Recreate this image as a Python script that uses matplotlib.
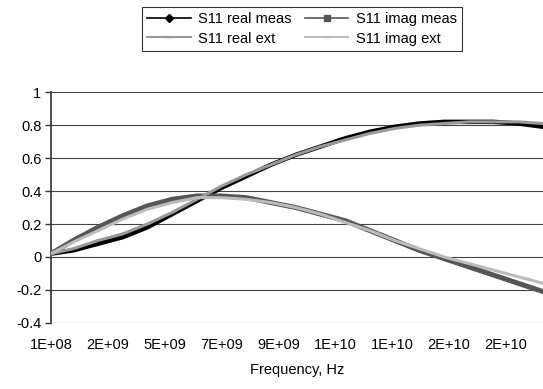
import matplotlib.pyplot as plt
import numpy as np

plt.rcParams['font.family'] = ['Liberation Sans', 'DejaVu Sans']

# frequency in GHz
freq_ghz = [0.1, 1, 2, 3, 4, 5, 6, 7, 8, 9, 10, 11, 12, 13, 14, 15, 16, 17, 18, 19, 20]
real_meas = [0.02, 0.04, 0.08, 0.12, 0.18, 0.26, 0.34, 0.42, 0.49, 0.56, 0.62,
             0.67, 0.72, 0.76, 0.79, 0.81, 0.82, 0.82, 0.82, 0.81, 0.79]
imag_meas = [0.02, 0.10, 0.18, 0.25, 0.31, 0.35, 0.37, 0.37, 0.36, 0.33, 0.30,
             0.26, 0.22, 0.16, 0.10, 0.04, -0.01, -0.06, -0.11, -0.16, -0.21]
real_ext = [0.02, 0.05, 0.10, 0.14, 0.20, 0.27, 0.35, 0.43, 0.50, 0.56, 0.62,
            0.67, 0.71, 0.75, 0.78, 0.80, 0.81, 0.82, 0.82, 0.82, 0.81]
imag_ext = [0.02, 0.09, 0.16, 0.23, 0.29, 0.33, 0.36, 0.36, 0.35, 0.33, 0.30,
            0.26, 0.21, 0.16, 0.10, 0.05, 0.00, -0.04, -0.08, -0.12, -0.16]

tick_freqs = [1e8 + k * 2.3e9 for k in range(9)]
tick_labels = ['1E+08', '2E+09', '5E+09', '7E+09', '9E+09', '1E+10', '1E+10', '2E+10', '2E+10']

f = np.array(freq_ghz) * 1e9

fig = plt.figure(figsize=(5.43, 3.89), dpi=100)
ax = fig.add_axes([0.094, 0.170, 0.906, 0.593])

ax.plot(f, real_meas, color='black', lw=3.2, zorder=3)
ax.plot(f, imag_meas, color='#555555', lw=3.6, zorder=3)
ax.plot(f, real_ext, color='#999999', lw=2.2, zorder=4)
ax.plot(f, imag_ext, color='#bbbbbb', lw=2.2, zorder=4)

ax.set_xlim(1e8, 2e10)
ax.set_ylim(-0.4, 1)
ax.set_yticks([-0.4, -0.2, 0, 0.2, 0.4, 0.6, 0.8, 1])
ax.set_yticklabels(['-0.4', '-0.2', '0', '0.2', '0.4', '0.6', '0.8', '1'])
ax.set_xticks(tick_freqs)
ax.set_xticklabels(tick_labels)
ax.tick_params(axis='x', length=0, pad=11, labelsize=10.5)
ax.tick_params(axis='y', length=4, width=1, color='#333333', labelsize=10.5, pad=3)

ax.yaxis.grid(True, color='#444444', lw=0.8)
ax.set_axisbelow(True)
for s in ['top', 'right', 'bottom']:
    ax.spines[s].set_visible(False)
ax.spines['left'].set_color('#333333')
ax.spines['left'].set_linewidth(1.2)

ax.set_xlabel('Frequency, Hz', fontsize=10.5, labelpad=8)

# legend with marker styles like the reference (filled row by row)
h1, = ax.plot([], [], color='black', lw=1.2, marker='D', ms=4)
h2, = ax.plot([], [], color='#555555', lw=1.2, marker='s', ms=4)
h3, = ax.plot([], [], color='#999999', lw=1.5, marker='_', ms=6)
h4, = ax.plot([], [], color='#bbbbbb', lw=1.5, marker='_', ms=6)
leg = fig.legend([h1, h3, h2, h4], ['S11 real meas', 'S11 real ext', 'S11 imag meas', 'S11 imag ext'],
                 loc='upper center', bbox_to_anchor=(0.556, 1.0), ncol=2, fontsize=10.5,
                 frameon=True, fancybox=False, edgecolor='black', handlelength=3.0,
                 columnspacing=0.9, handletextpad=0.5, borderpad=0.35, labelspacing=0.35)
leg.get_frame().set_linewidth(0.8)

plt.savefig('out.png', dpi=100)
